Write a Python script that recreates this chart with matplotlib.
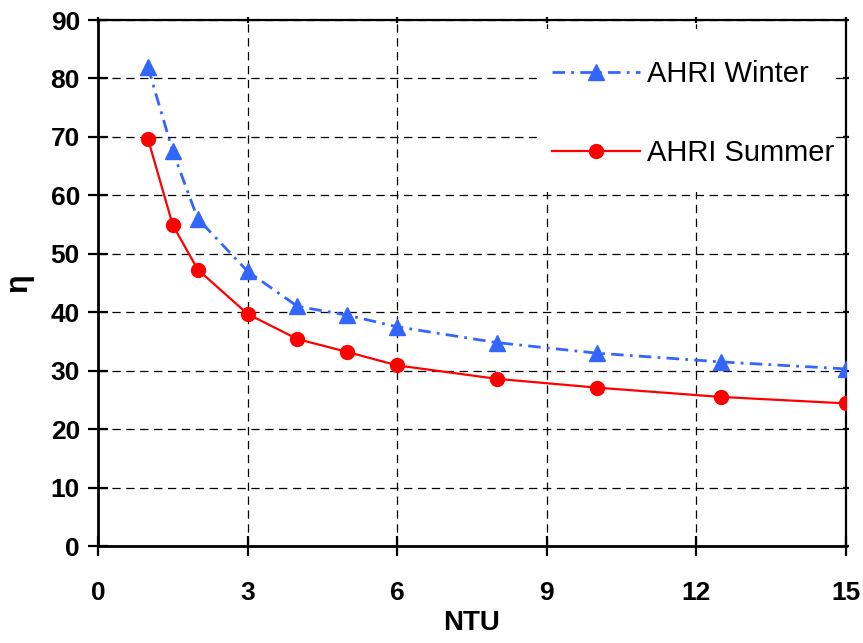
import matplotlib
matplotlib.use("Agg")
import matplotlib.pyplot as plt
from matplotlib.patches import Rectangle

plt.rcParams["font.family"] = ["Liberation Sans", "DejaVu Sans"]
plt.rcParams["lines.scale_dashes"] = False

# NTU values and efficiency for the two rating conditions
ntu = [1, 1.5, 2, 3, 4, 5, 6, 8, 10, 12.5, 15]
eta_winter = [82.0, 67.5, 56.0, 47.0, 41.0, 39.5, 37.5, 34.8, 33.0, 31.5, 30.3]
eta_summer = [69.7, 54.9, 47.3, 39.7, 35.4, 33.2, 30.9, 28.6, 27.1, 25.5, 24.4]

x_ticks = [0, 3, 6, 9, 12, 15]
y_ticks = [0, 10, 20, 30, 40, 50, 60, 70, 80, 90]

W, H = 863, 643
fig = plt.figure(figsize=(W / 100, H / 100), dpi=100)
ax = fig.add_axes([98 / W, 1 - 546 / H, (846 - 98) / W, (546 - 20) / H])

ax.plot(ntu, eta_winter, color="#3366FF", lw=2.0, dashes=(9, 4.5, 2, 4.5),
        marker="^", markersize=11, label="AHRI Winter", zorder=3)
ax.plot(ntu, eta_summer, color="#FF0000", lw=1.6, linestyle="-",
        marker="o", markersize=10, label="AHRI Summer", zorder=3)

ax.set_xlim(0, 15)
ax.set_ylim(0, 90)
ax.set_xticks(x_ticks)
ax.set_yticks(y_ticks)

ax.grid(True, color="black", lw=0.9, dashes=(6, 4))

for side in ("left", "bottom"):
    ax.spines[side].set_linewidth(2.0)
for side in ("top", "right"):
    ax.spines[side].set_linewidth(1.6)

ax.tick_params(axis="both", which="major", direction="inout", length=14,
               width=1.6, labelsize=19, pad=6)
ax.tick_params(top=True, right=True)
ax.xaxis.set_tick_params(which="major", pad=18)
for t in ax.xaxis.get_major_ticks():
    t.tick2line.set_markersize(5)
for t in ax.yaxis.get_major_ticks():
    t.tick2line.set_markersize(5)
for lbl in ax.get_xticklabels() + ax.get_yticklabels():
    lbl.set_fontweight("bold")

ax.set_xlabel("NTU", fontsize=20, fontweight="bold", labelpad=4)
ax.set_ylabel("η", fontsize=22, fontweight="bold", labelpad=12)

# white background block behind the legend, hiding the grid there
ax.add_patch(Rectangle((537 / W, 1 - 192 / H), (836 - 537) / W, (192 - 29) / H,
                       transform=fig.transFigure, facecolor="white",
                       edgecolor="none", zorder=2))

leg = ax.legend(loc="upper left", bbox_to_anchor=(552 / W, 1 - 60 / H),
                bbox_transform=fig.transFigure, frameon=False, fontsize=21,
                handlelength=3.0, handletextpad=0.25, labelspacing=1.75,
                borderpad=0, borderaxespad=0)

fig.savefig("out.png", dpi=100)
